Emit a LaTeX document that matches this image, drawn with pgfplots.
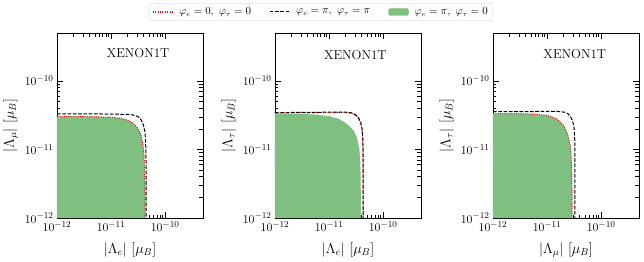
\documentclass[border=0pt]{standalone}
\usepackage{pgfplots}
\pgfplotsset{compat=1.18}
\definecolor{fillgreen}{RGB}{127,191,127}
\definecolor{dotred}{RGB}{255,0,0}
\pgfplotsset{
  myreddot/.style={draw=red, line width=1pt, dash pattern=on 1pt off 1.3pt},
  myblackdash/.style={draw=black, line width=1pt, dash pattern=on 3.7pt off 1.6pt},
  redleg/.style={legend image code/.code={\draw[color=dotred, draw=dotred, line width=1.1pt, dash pattern=on 1.1pt off 1.3pt] (0bp,0bp) -- (20bp,0bp);}},
  blackleg/.style={legend image code/.code={\draw[black, line width=1pt, dash pattern=on 3.7pt off 1.6pt] (0bp,0bp) -- (20bp,0bp);}},
  patchleg/.style={legend image code/.code={\fill[fillgreen] (0bp,-3.5bp) rectangle (20bp,3.5bp);}},
  every axis/.append style={
    scale only axis, width=146bp, height=185bp,
    xmin=1e-12, xmax=5e-10, ymin=1e-12, ymax=5e-10,
    xtick={1e-12,1e-11,1e-10}, ytick={1e-12,1e-11,1e-10},
    axis line style={line width=0.9pt},
    major tick length=6bp, minor tick length=3.5bp,
    every major tick/.style={black, line width=0.7pt},
    every minor tick/.style={black, line width=0.5pt},
    tick label style={font=\fontsize{13}{15}\selectfont},
    label style={font=\fontsize{14.5}{17}\selectfont},
    xlabel style={yshift=-4bp},
    anchor=south west,
  },
}
\begin{document}
\begin{tikzpicture}
\useasboundingbox (0,0) rectangle (644bp,262bp);
% ---------- Panel 1 ----------
\begin{loglogaxis}[at={(57bp,44bp)},
  xlabel={$|\Lambda_e|\ [\mu_B]$}, ylabel={$|\Lambda_\mu|\ [\mu_B]$}]
\addplot[fill=fillgreen, draw=none, forget plot] coordinates {
(1e-12,1e-12) (1e-12,3.05e-11) (2e-12,3.05e-11) (5e-12,3.0e-11) (1e-11,2.95e-11) (1.5e-11,2.85e-11) (2e-11,2.68e-11) (2.5e-11,2.45e-11) (3e-11,2.12e-11) (3.4e-11,1.8e-11) (3.7e-11,1.45e-11) (3.9e-11,1.15e-11) (4.05e-11,8.5e-12) (4.15e-11,6e-12) (4.2e-11,4e-12) (4.24e-11,2.2e-12) (4.26e-11,1e-12)} -- cycle;
\addplot[myreddot, forget plot] coordinates {
(1e-12,3.05e-11) (2e-12,3.05e-11) (5e-12,3.0e-11) (1e-11,2.95e-11) (1.5e-11,2.85e-11) (2e-11,2.68e-11) (2.5e-11,2.45e-11) (3e-11,2.12e-11) (3.4e-11,1.8e-11) (3.7e-11,1.45e-11) (3.9e-11,1.15e-11) (4.05e-11,8.5e-12) (4.15e-11,6e-12) (4.2e-11,4e-12) (4.24e-11,2.2e-12) (4.26e-11,1e-12)};
\addplot[myblackdash, forget plot] coordinates {
(1e-12,3.3e-11) (5e-12,3.3e-11) (1e-11,3.28e-11) (2e-11,3.25e-11) (2.6e-11,3.18e-11) (3.2e-11,3.0e-11) (3.6e-11,2.7e-11) (3.98e-11,2.25e-11) (4.2e-11,1.85e-11) (4.32e-11,1.45e-11) (4.4e-11,1e-11) (4.43e-11,6e-12) (4.45e-11,3e-12) (4.45e-11,1e-12)};
\node[font=\fontsize{13}{15}\selectfont] at (rel axis cs:0.555,0.89) {XENON1T};
\end{loglogaxis}
% ---------- Panel 2 ----------
\begin{loglogaxis}[at={(275bp,44bp)},
  xlabel={$|\Lambda_e|\ [\mu_B]$}, ylabel={$|\Lambda_\tau|\ [\mu_B]$},
  legend columns=3,
  legend style={at={(0.315,1.162)}, anchor=north, draw=black!18, rounded corners=2bp,
    font=\fontsize{10.5}{12.5}\selectfont, inner sep=2.5bp,
    /tikz/every odd column/.append style={column sep=4bp},
    /tikz/every even column/.append style={column sep=16bp}},
  legend cell align=left]
\addlegendimage{redleg}
\addlegendentry{$\varphi_e=0,\ \varphi_\tau=0$}
\addlegendimage{blackleg}
\addlegendentry{$\varphi_e=\pi,\ \varphi_\tau=\pi$}
\addlegendimage{patchleg}
\addlegendentry{$\varphi_e=\pi,\ \varphi_\tau=0$}
\addplot[fill=fillgreen, draw=none, forget plot] coordinates {
(1e-12,1e-12) (1e-12,3.35e-11) (2e-12,3.33e-11) (5e-12,3.25e-11) (1e-11,3.07e-11) (1.5e-11,2.8e-11) (2e-11,2.45e-11) (2.5e-11,2.12e-11) (2.9e-11,1.85e-11) (3.2e-11,1.55e-11) (3.45e-11,1.25e-11) (3.65e-11,9.5e-12) (3.77e-11,6.5e-12) (3.83e-11,4e-12) (3.86e-11,2e-12) (3.87e-11,1e-12)} -- cycle;
\addplot[myreddot, forget plot] coordinates {
(1e-12,3.4e-11) (5e-12,3.43e-11) (1e-11,3.45e-11) (2e-11,3.45e-11) (2.6e-11,3.37e-11) (3.1e-11,3.15e-11) (3.5e-11,2.85e-11) (3.83e-11,2.45e-11) (4.02e-11,2.0e-11) (4.15e-11,1.55e-11) (4.21e-11,1.1e-11) (4.24e-11,6e-12) (4.25e-11,1e-12)};
\addplot[myblackdash, forget plot] coordinates {
(1e-12,3.45e-11) (5e-12,3.48e-11) (1e-11,3.5e-11) (2e-11,3.5e-11) (2.6e-11,3.42e-11) (3.1e-11,3.2e-11) (3.5e-11,2.9e-11) (3.85e-11,2.5e-11) (4.05e-11,2.05e-11) (4.18e-11,1.6e-11) (4.24e-11,1.1e-11) (4.27e-11,6e-12) (4.28e-11,1e-12)};
\node[font=\fontsize{13}{15}\selectfont] at (rel axis cs:0.55,0.88) {XENON1T};
\end{loglogaxis}
% ---------- Panel 3 ----------
\begin{loglogaxis}[at={(493bp,44bp)},
  xlabel={$|\Lambda_\mu|\ [\mu_B]$}, ylabel={$|\Lambda_\tau|\ [\mu_B]$}]
\addplot[fill=fillgreen, draw=none, forget plot] coordinates {
(1e-12,1e-12) (1e-12,3.35e-11) (3e-12,3.33e-11) (5e-12,3.3e-11) (1e-11,3.15e-11) (1.5e-11,2.8e-11) (2e-11,2.25e-11) (2.3e-11,1.8e-11) (2.5e-11,1.5e-11) (2.7e-11,1.1e-11) (2.82e-11,7e-12) (2.87e-11,4e-12) (2.9e-11,2e-12) (2.9e-11,1e-12)} -- cycle;
\addplot[myreddot, forget plot] coordinates {
(1e-12,3.35e-11) (3e-12,3.33e-11) (5e-12,3.3e-11) (1e-11,3.15e-11) (1.5e-11,2.8e-11) (2e-11,2.25e-11) (2.3e-11,1.8e-11) (2.5e-11,1.5e-11) (2.7e-11,1.1e-11) (2.82e-11,7e-12) (2.87e-11,4e-12) (2.9e-11,2e-12) (2.9e-11,1e-12)};
\addplot[myblackdash, forget plot] coordinates {
(1e-12,3.55e-11) (5e-12,3.57e-11) (1e-11,3.6e-11) (1.5e-11,3.6e-11) (2.1e-11,3.5e-11) (2.4e-11,3.35e-11) (2.65e-11,3.1e-11) (2.9e-11,2.7e-11) (3.05e-11,2.37e-11) (3.18e-11,1.95e-11) (3.24e-11,1.5e-11) (3.27e-11,1e-11) (3.28e-11,5e-12) (3.28e-11,1e-12)};
\node[font=\fontsize{13}{15}\selectfont] at (rel axis cs:0.56,0.886) {XENON1T};
\end{loglogaxis}
\end{tikzpicture}
\end{document}
